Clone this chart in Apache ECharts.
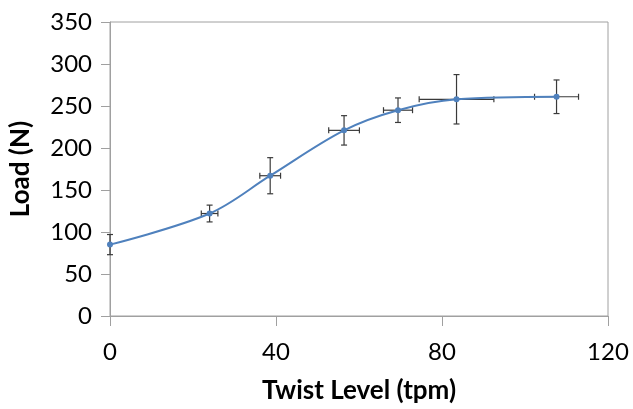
<!DOCTYPE html>
<html lang="en">
<head>
  <meta charset="UTF-8">
  <title>Load vs Twist Level</title>
  <script src="https://cdn.jsdelivr.net/npm/echarts@6/dist/echarts.min.js"></script>
  <style>
    html, body { margin: 0; padding: 0; background: #fff; }
    #main { width: 633px; height: 409px; }
  </style>
</head>
<body>
  <div id="main"></div>
  <script>
    // data
    var twist = [0, 24, 38.6, 56.4, 69.4, 83.5, 107.6]
    var load = [85, 122, 167, 221, 245, 258, 261]
    var loadErr = [12, 10, 21.5, 17.5, 14.6, 29.4, 20]
    var twistErr = [0, 2, 2.5, 3.7, 3.5, 9, 5.3]

    var fontName = 'Lato'
    var points = twist.map(function (t, i) { return [t, load[i]] })
    var errData = twist.map(function (t, i) { return [t, load[i], twistErr[i], loadErr[i]] })

    var chart = echarts.init(document.getElementById('main'))

    // error bars, x and y, with small caps
    function renderErr(params, api) {
      var x = api.value(0), y = api.value(1), dx = api.value(2), dy = api.value(3)
      var top = api.coord([x, y + dy]), bot = api.coord([x, y - dy])
      var lft = api.coord([x - dx, y]), rgt = api.coord([x + dx, y])
      var st = { stroke: '#3a3a3a', lineWidth: 1.2 }
      var cap = 3
      var kids = [
        { type: 'line', shape: { x1: top[0], y1: top[1], x2: bot[0], y2: bot[1] }, style: st },
        { type: 'line', shape: { x1: top[0] - cap, y1: top[1], x2: top[0] + cap, y2: top[1] }, style: st },
        { type: 'line', shape: { x1: bot[0] - cap, y1: bot[1], x2: bot[0] + cap, y2: bot[1] }, style: st }
      ]
      if (dx > 0) {
        kids.push(
          { type: 'line', shape: { x1: lft[0], y1: lft[1], x2: rgt[0], y2: rgt[1] }, style: st },
          { type: 'line', shape: { x1: lft[0], y1: lft[1] - cap, x2: lft[0], y2: lft[1] + cap }, style: st },
          { type: 'line', shape: { x1: rgt[0], y1: rgt[1] - cap, x2: rgt[0], y2: rgt[1] + cap }, style: st }
        )
      }
      return { type: 'group', children: kids }
    }

    var option = {
      animation: false,
      grid: {
        left: 109, top: 22, right: 25, bottom: 87,
        show: true, borderColor: '#a0a0a0', borderWidth: 1
      },
      xAxis: {
        type: 'value', min: 0, max: 120, interval: 40,
        name: 'Twist Level (tpm)', nameLocation: 'middle', nameGap: 62,
        nameTextStyle: { fontFamily: fontName, fontSize: 26, fontWeight: 'bold', color: '#000' },
        axisLine: { show: true, lineStyle: { color: '#a0a0a0' } },
        axisTick: { show: true, length: 10, lineStyle: { color: '#a0a0a0' } },
        axisLabel: { fontFamily: fontName, fontSize: 24, color: '#000', margin: 24 },
        splitLine: { show: false }
      },
      yAxis: {
        type: 'value', min: 0, max: 350, interval: 50,
        name: 'Load (N)', nameLocation: 'middle', nameGap: 76,
        nameTextStyle: { fontFamily: fontName, fontSize: 26, fontWeight: 'bold', color: '#000' },
        axisLine: { show: true, lineStyle: { color: '#a0a0a0' } },
        axisTick: { show: true, length: 9, lineStyle: { color: '#a0a0a0' } },
        axisLabel: { fontFamily: fontName, fontSize: 24, color: '#000', margin: 18 },
        splitLine: { show: false }
      },
      series: [
        {
          type: 'custom',
          data: errData,
          renderItem: renderErr,
          encode: { x: 0, y: 1 },
          z: 2
        },
        {
          type: 'line',
          data: points,
          smooth: 0.35,
          symbol: 'circle',
          symbolSize: 6,
          lineStyle: { color: '#4f81bd', width: 2 },
          itemStyle: { color: '#4f81bd' },
          z: 3
        }
      ]
    }
    chart.setOption(option)
  </script>
</body>
</html>
